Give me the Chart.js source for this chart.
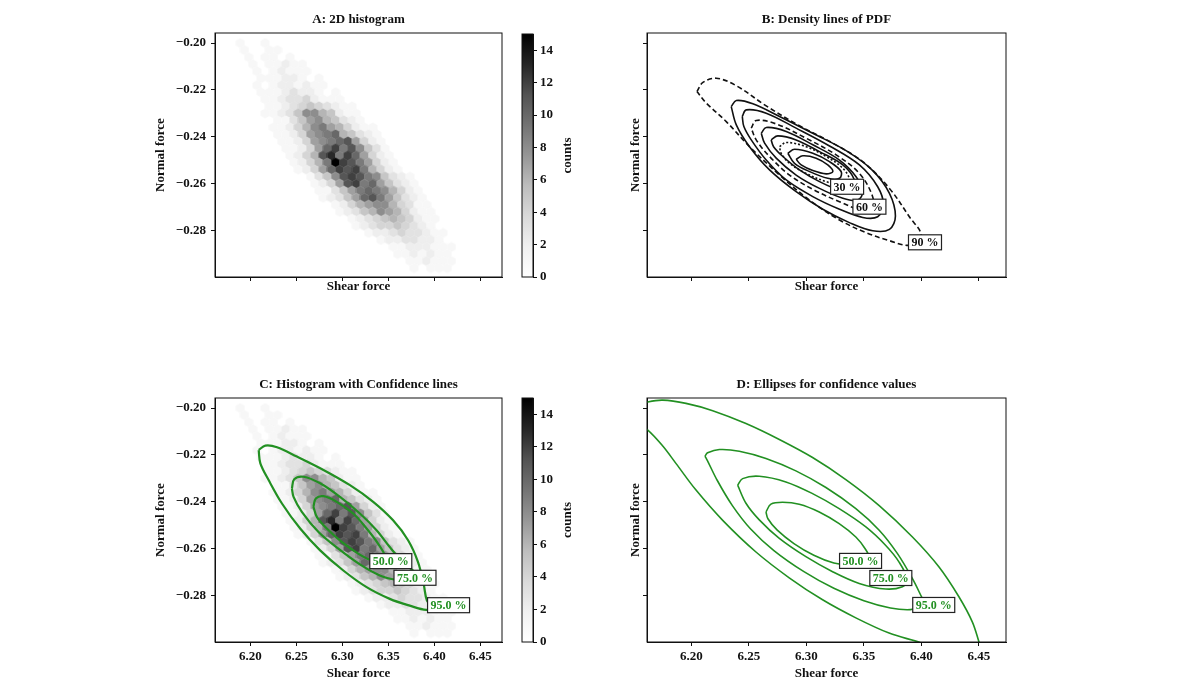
<!DOCTYPE html>
<html>
<head>
<meta charset="utf-8">
<script src="https://cdn.jsdelivr.net/npm/chart.js@4.4.1/dist/chart.umd.min.js"></script>
<style>
  html, body { margin: 0; padding: 0; background: #fff; }
  #wrap { position: relative; width: 1198px; height: 686px; overflow: hidden; background: #fff; }
  canvas { position: absolute; }
</style>
</head>
<body>
<div id="wrap">
  <canvas id="chA" width="372" height="300" style="left:140px;top:0px"></canvas>
  <canvas id="cbA" width="80" height="300" style="left:512px;top:0px"></canvas>
  <canvas id="chB" width="426" height="300" style="left:590px;top:0px"></canvas>
  <canvas id="chC" width="372" height="346" style="left:140px;top:340px"></canvas>
  <canvas id="cbC" width="80" height="346" style="left:512px;top:340px"></canvas>
  <canvas id="chD" width="426" height="346" style="left:590px;top:340px"></canvas>
</div>
<script>
// оси
const xTicks = [6.20, 6.25, 6.30, 6.35, 6.40, 6.45];
const yTicks = [-0.20, -0.22, -0.24, -0.26, -0.28];
const cbTicks = [0, 2, 4, 6, 8, 10, 12, 14];
const xRange = [6.1615, 6.4735];
const yRange = [-0.2998, -0.1957];
const countMax = 15;

// гексагональная гистограмма: сетка и счётчики (hex-цифры 0..f)
const histColX = [6.180, 6.189, 6.198, 6.207, 6.216, 6.225, 6.234, 6.243, 6.252, 6.261, 6.270,
  6.279, 6.288, 6.297, 6.306, 6.315, 6.324, 6.333, 6.342, 6.351, 6.360, 6.369, 6.378, 6.387,
  6.396, 6.405, 6.414, 6.423, 6.432, 6.441, 6.450];
const histRowY = [-0.200, -0.203, -0.206, -0.209, -0.212, -0.215, -0.218, -0.221, -0.224, -0.227,
  -0.230, -0.233, -0.236, -0.239, -0.242, -0.245, -0.248, -0.251, -0.254, -0.257, -0.260, -0.263,
  -0.266, -0.269, -0.272, -0.275, -0.278, -0.281, -0.284, -0.287, -0.290, -0.293, -0.296];
const histRowShift = 0.0045;
const histStart = [1, 1, 2, 2, 3, 3, 3, 3, 4, 4, 4, 5, 5, 5, 6, 6, 7, 7, 8, 9, 10, 10, 11, 12,
  13, 14, 15, 16, 18, 19, 20, 21, 22];
const histCounts = ["1001", "10011", "101101", "1011211", "1012111", "11122101", "101221211",
  "1112322101", "1123342111", "11234543211", "112358865211", "11357865321", "1124689764211",
  "1124789a65321", "1124789ab7421", "11247ac9b8531", "1246bd9ca7421", "12469fcb97421",
  "1247acbc96421", "1358bcb985321", "1247bc9a75321", "113579a986421", "12357ab975321",
  "124678864311", "123568764211", "12345654211", "1234454321", "1223433211", "12233221",
  "11222111", "1121211", "112111", "10111"];

// B: линии плотности
const bL90x = [6.2049, 6.2101, 6.2217, 6.2391, 6.2651, 6.2940, 6.3230, 6.3490, 6.3722, 6.3895, 6.3997, 6.3895, 6.3722, 6.3519, 6.3288, 6.3027, 6.2767, 6.2506, 6.2304, 6.2130];
const bL90y = [-0.2207, -0.2168, -0.2150, -0.2182, -0.2268, -0.2353, -0.2427, -0.2506, -0.2620, -0.2741, -0.2819, -0.2862, -0.2843, -0.2809, -0.2755, -0.2670, -0.2563, -0.2442, -0.2335, -0.2256];
const bS1x = [6.2347, 6.2391, 6.2535, 6.2767, 6.3056, 6.3345, 6.3577, 6.3722, 6.3774, 6.3722, 6.3577, 6.3374, 6.3143, 6.2911, 6.2680, 6.2506, 6.2391];
const bS1y = [-0.2271, -0.2245, -0.2259, -0.2313, -0.2385, -0.2459, -0.2544, -0.2641, -0.2738, -0.2795, -0.2801, -0.2766, -0.2709, -0.2634, -0.2541, -0.2442, -0.2349];
const bS2x = [6.2443, 6.2477, 6.2651, 6.2911, 6.3201, 6.3461, 6.3620, 6.3670, 6.3620, 6.3490, 6.3288, 6.3056, 6.2825, 6.2651, 6.2521, 6.2457];
const bS2y = [-0.2313, -0.2285, -0.2299, -0.2363, -0.2439, -0.2520, -0.2613, -0.2691, -0.2741, -0.2744, -0.2709, -0.2655, -0.2584, -0.2499, -0.2413, -0.2356];
const bL60x = [6.2521, 6.2564, 6.2738, 6.2998, 6.3259, 6.3461, 6.3571, 6.3577, 6.3476, 6.3288, 6.3056, 6.2854, 6.2680, 6.2564];
const bL60y = [-0.2363, -0.2330, -0.2345, -0.2406, -0.2477, -0.2556, -0.2648, -0.2705, -0.2712, -0.2677, -0.2624, -0.2563, -0.2484, -0.2413];
const bS3x = [6.2608, 6.2651, 6.2825, 6.3056, 6.3288, 6.3432, 6.3490, 6.3447, 6.3317, 6.3114, 6.2911, 6.2738, 6.2637];
const bS3y = [-0.2385, -0.2360, -0.2377, -0.2434, -0.2499, -0.2570, -0.2634, -0.2670, -0.2662, -0.2620, -0.2563, -0.2491, -0.2427];
const bS4x = [6.2694, 6.2752, 6.2911, 6.3114, 6.3317, 6.3418, 6.3403, 6.3288, 6.3114, 6.2940, 6.2796, 6.2715];
const bS4y = [-0.2413, -0.2396, -0.2413, -0.2463, -0.2520, -0.2584, -0.2627, -0.2627, -0.2591, -0.2541, -0.2484, -0.2442];
const bL30x = [6.2767, 6.2825, 6.2998, 6.3172, 6.3317, 6.3374, 6.3317, 6.3172, 6.2998, 6.2854, 6.2781];
const bL30y = [-0.2442, -0.2424, -0.2442, -0.2484, -0.2534, -0.2584, -0.2605, -0.2591, -0.2556, -0.2513, -0.2470];
const bS5x = [6.2839, 6.2897, 6.3056, 6.3201, 6.3302, 6.3288, 6.3186, 6.3027, 6.2897];
const bS5y = [-0.2470, -0.2453, -0.2470, -0.2506, -0.2548, -0.2577, -0.2577, -0.2548, -0.2513];
const bS6x = [6.2911, 6.2969, 6.3085, 6.3186, 6.3230, 6.3172, 6.3056, 6.2955];
const bS6y = [-0.2496, -0.2481, -0.2491, -0.2520, -0.2548, -0.2558, -0.2544, -0.2520];
const bLabelText = ["30 %", "60 %", "90 %"];
const bLabelX = [6.3354, 6.3548, 6.4031];
const bLabelY = [-0.2613, -0.2698, -0.2850];

// C: линии доверия поверх гистограммы
const cL95x = [6.2090, 6.2162, 6.2289, 6.2505, 6.2794, 6.3082, 6.3335, 6.3551, 6.3714, 6.3822, 6.3883, 6.3919, 6.3984, 6.3912, 6.3732, 6.3515, 6.3263, 6.3010, 6.2758, 6.2541, 6.2343, 6.2198, 6.2108];
const cL95y = [-0.2179, -0.2160, -0.2167, -0.2207, -0.2264, -0.2329, -0.2400, -0.2479, -0.2564, -0.2657, -0.2750, -0.2821, -0.2850, -0.2861, -0.2843, -0.2814, -0.2764, -0.2693, -0.2607, -0.2514, -0.2407, -0.2307, -0.2236];
const cL75x = [6.2451, 6.2476, 6.2577, 6.2758, 6.2974, 6.3190, 6.3371, 6.3515, 6.3641, 6.3768, 6.3876, 6.3768, 6.3587, 6.3407, 6.3190, 6.2956, 6.2740, 6.2559, 6.2469];
const cL75y = [-0.2343, -0.2304, -0.2293, -0.2321, -0.2379, -0.2450, -0.2521, -0.2593, -0.2650, -0.2693, -0.2721, -0.2739, -0.2733, -0.2714, -0.2667, -0.2600, -0.2529, -0.2443, -0.2379];
const cL50x = [6.2685, 6.2711, 6.2794, 6.2938, 6.3118, 6.3263, 6.3389, 6.3461, 6.3443, 6.3317, 6.3172, 6.2992, 6.2830, 6.2722];
const cL50y = [-0.2421, -0.2386, -0.2376, -0.2400, -0.2450, -0.2514, -0.2579, -0.2629, -0.2653, -0.2650, -0.2621, -0.2571, -0.2514, -0.2464];
const cLabelText = ["50.0 %", "75.0 %", "95.0 %"];
const cLabelX = [6.3526, 6.3789, 6.4154];
const cLabelY = [-0.2653, -0.2724, -0.2841];

// D: эллипсы
const dE50x = [6.2649, 6.2692, 6.2793, 6.2938, 6.3112, 6.3285, 6.3430, 6.3511, 6.3540, 6.3485, 6.3384, 6.3239, 6.3065, 6.2892, 6.2747, 6.2666];
const dE50y = [-0.2443, -0.2410, -0.2402, -0.2410, -0.2443, -0.2493, -0.2550, -0.2600, -0.2633, -0.2661, -0.2670, -0.2661, -0.2628, -0.2578, -0.2521, -0.2472];
const dE75x = [6.2403, 6.2446, 6.2591, 6.2822, 6.3054, 6.3285, 6.3517, 6.3690, 6.3806, 6.3879, 6.3835, 6.3690, 6.3459, 6.3228, 6.2996, 6.2765, 6.2591, 6.2475];
const dE75y = [-0.2329, -0.2301, -0.2291, -0.2315, -0.2365, -0.2429, -0.2507, -0.2586, -0.2657, -0.2734, -0.2762, -0.2772, -0.2748, -0.2698, -0.2634, -0.2556, -0.2477, -0.2406];
const dE95x = [6.2119, 6.2142, 6.2244, 6.2417, 6.2649, 6.2909, 6.3170, 6.3430, 6.3633, 6.3792, 6.3922, 6.4009, 6.4029, 6.4006, 6.3905, 6.3731, 6.3500, 6.3239, 6.2979, 6.2718, 6.2516, 6.2357, 6.2226, 6.2140];
const dE95y = [-0.2205, -0.2191, -0.2177, -0.2184, -0.2215, -0.2268, -0.2339, -0.2429, -0.2521, -0.2621, -0.2728, -0.2813, -0.2832, -0.2846, -0.2860, -0.2853, -0.2822, -0.2769, -0.2698, -0.2608, -0.2516, -0.2416, -0.2309, -0.2224];
const dE99x = [6.1434, 6.1535, 6.1622, 6.1752, 6.1954, 6.2186, 6.2475, 6.2765, 6.3054, 6.3343, 6.3633, 6.3922, 6.4153, 6.4327, 6.4443, 6.4501, 6.4544, 6.4564, 6.4443, 6.4240, 6.3994, 6.3719, 6.3430, 6.3141, 6.2851, 6.2562, 6.2273, 6.2041, 6.1868, 6.1752, 6.1622, 6.1506];
const dE99y = [-0.2030, -0.1989, -0.1974, -0.1966, -0.1980, -0.2011, -0.2066, -0.2134, -0.2211, -0.2305, -0.2416, -0.2550, -0.2678, -0.2806, -0.2913, -0.2999, -0.3063, -0.3113, -0.3077, -0.3046, -0.3001, -0.2960, -0.2895, -0.2818, -0.2724, -0.2614, -0.2479, -0.2350, -0.2237, -0.2162, -0.2094, -0.2058];
const dLabelX = [6.3471, 6.3734, 6.4107];
const dLabelY = [-0.2652, -0.2725, -0.2840];

// стили
const FONT = "'Liberation Serif', 'DejaVu Serif', serif";
const greys = ['#ffffff', '#f0f0f0', '#d9d9d9', '#bdbdbd', '#969696', '#737373', '#525252', '#252525', '#000000'];
const GREEN = '#229022';

Chart.defaults.font.family = FONT;
Chart.defaults.font.size = 13;
Chart.defaults.font.weight = 'bold';
Chart.defaults.color = '#111';

function greyAt(t) {
  const p = Math.max(0, Math.min(1, t)) * (greys.length - 1);
  const i = Math.min(Math.floor(p), greys.length - 2);
  const f = p - i;
  const a = parseInt(greys[i].slice(1, 3), 16);
  const b = parseInt(greys[i + 1].slice(1, 3), 16);
  const v = Math.round(a + (b - a) * f);
  return `rgb(${v},${v},${v})`;
}

// картинка шестиугольника для pointStyle
function hexImage(color) {
  const c = document.createElement('canvas');
  c.width = 10; c.height = 11;
  const g = c.getContext('2d');
  const w = 9.0, h = 10.0, cx = 5, cy = 5.5;
  g.beginPath();
  g.moveTo(cx, cy - h / 2);
  g.lineTo(cx + w / 2, cy - h / 4);
  g.lineTo(cx + w / 2, cy + h / 4);
  g.lineTo(cx, cy + h / 2);
  g.lineTo(cx - w / 2, cy + h / 4);
  g.lineTo(cx - w / 2, cy - h / 4);
  g.closePath();
  g.fillStyle = color;
  g.fill();
  return c;
}
const hexImgs = [];
for (let v = 0; v <= countMax; v++) hexImgs.push(hexImage(greyAt(v / countMax)));

const histPoints = [];
histCounts.forEach((row, r) => {
  for (let i = 0; i < row.length; i++) {
    const v = parseInt(row[i], 16);
    if (!v) continue;
    const c = histStart[r] + i;
    histPoints.push({ x: histColX[c] + (r % 2 ? histRowShift : 0), y: histRowY[r], v });
  }
});

function histSet() {
  return {
    data: histPoints,
    pointStyle: (ctx) => (ctx.raw ? hexImgs[ctx.raw.v] : 'circle'),
    pointRadius: 4,
    order: 5,
  };
}

function lineSet(xs, ys, color, width, dash) {
  const pts = xs.map((x, i) => ({ x, y: ys[i] }));
  pts.push(pts[0]); // замыкаем контур
  return {
    data: pts,
    showLine: true,
    borderColor: color,
    borderWidth: width,
    borderDash: dash || [],
    pointRadius: 0,
    tension: 0.35,
    fill: false,
    order: 0,
  };
}

// плагины
const framePlugin = {
  id: 'frame',
  afterDraw(chart) {
    const { ctx, chartArea: a } = chart;
    ctx.save();
    ctx.strokeStyle = '#111';
    ctx.lineWidth = 1;
    ctx.strokeRect(a.left, a.top, a.right - a.left, a.bottom - a.top);
    ctx.restore();
  },
};

const titlePlugin = {
  id: 'panelTitle',
  afterDraw(chart, args, opts) {
    if (!opts.text) return;
    const { ctx, chartArea: a } = chart;
    ctx.save();
    ctx.font = `bold 13px ${FONT}`;
    ctx.fillStyle = '#111';
    ctx.textAlign = 'center';
    ctx.textBaseline = 'middle';
    ctx.fillText(opts.text, (a.left + a.right) / 2, a.top - 13);
    ctx.restore();
  },
};

const sideLabelPlugin = {
  id: 'sideLabel',
  afterDraw(chart, args, opts) {
    if (!opts.text) return;
    const { ctx, chartArea: a } = chart;
    ctx.save();
    ctx.translate(a.right + 35, (a.top + a.bottom) / 2);
    ctx.rotate(-Math.PI / 2);
    ctx.font = `bold 13px ${FONT}`;
    ctx.fillStyle = '#111';
    ctx.textAlign = 'center';
    ctx.textBaseline = 'middle';
    ctx.fillText(opts.text, 0, 0);
    ctx.restore();
  },
};

const boxPlugin = {
  id: 'boxLabels',
  afterDatasetsDraw(chart, args, opts) {
    if (!opts.texts) return;
    const { ctx, scales } = chart;
    ctx.save();
    ctx.font = `bold 12px ${FONT}`;
    ctx.textAlign = 'center';
    ctx.textBaseline = 'middle';
    opts.texts.forEach((t, i) => {
      const px = scales.x.getPixelForValue(opts.xs[i]);
      const py = scales.y.getPixelForValue(opts.ys[i]);
      const w = ctx.measureText(t).width + 6;
      const h = 15;
      ctx.fillStyle = '#fff';
      ctx.fillRect(px - w / 2, py - h / 2, w, h);
      ctx.strokeStyle = '#222';
      ctx.lineWidth = 1.2;
      ctx.strokeRect(px - w / 2, py - h / 2, w, h);
      ctx.fillStyle = opts.color;
      ctx.fillText(t, px, py + 1);
    });
    ctx.restore();
  },
};

Chart.register(framePlugin, titlePlugin, sideLabelPlugin, boxPlugin);

const fmt = (v) => v.toFixed(2).replace('-', '\u2212');

function panel(id, o) {
  return new Chart(document.getElementById(id), {
    type: 'scatter',
    data: { datasets: o.datasets },
    options: {
      responsive: false,
      animation: false,
      events: [],
      layout: { padding: { top: o.top, right: 10, left: 0, bottom: 0 } },
      plugins: {
        legend: { display: false },
        tooltip: { enabled: false },
        panelTitle: { text: o.title },
        boxLabels: o.labels || {},
      },
      scales: {
        x: {
          type: 'linear',
          min: xRange[0],
          max: xRange[1],
          afterBuildTicks: (s) => { s.ticks = xTicks.map((v) => ({ value: v })); },
          afterFit: (s) => { s.height = o.xh; },
          grid: { drawOnChartArea: false, tickLength: 4, color: '#111' },
          border: { color: '#111' },
          ticks: { display: o.xLabels, padding: 3, autoSkip: false, maxRotation: 0, callback: (v) => v.toFixed(2) },
          title: { display: true, text: 'Shear force', padding: { top: 0, bottom: o.xtp } },
        },
        y: {
          type: 'linear',
          min: yRange[0],
          max: yRange[1],
          afterBuildTicks: (s) => { s.ticks = yTicks.map((v) => ({ value: v })); },
          afterFit: (s) => { s.width = o.yw; },
          grid: { drawOnChartArea: false, tickLength: 4, color: '#111' },
          border: { color: '#111' },
          ticks: { display: o.yLabels, padding: 5, autoSkip: false, callback: fmt },
          title: { display: true, text: 'Normal force', padding: { top: o.ytp, bottom: 0 } },
        },
      },
    },
  });
}

function colorbar(id, top, bottom) {
  return new Chart(document.getElementById(id), {
    type: 'bar',
    data: {
      labels: ['counts'],
      datasets: [{
        data: [[0, countMax]],
        backgroundColor: (ctx) => {
          const chart = ctx.chart;
          if (!chart.chartArea) return '#888';
          const y = chart.scales.y;
          const g = chart.ctx.createLinearGradient(0, y.getPixelForValue(0), 0, y.getPixelForValue(countMax));
          greys.forEach((c, i) => g.addColorStop(i / (greys.length - 1), c));
          return g;
        },
        borderWidth: 0,
        barPercentage: 1,
        categoryPercentage: 1,
      }],
    },
    options: {
      responsive: false,
      animation: false,
      events: [],
      layout: { padding: { top, bottom, left: 10, right: 0 } },
      plugins: { legend: { display: false }, tooltip: { enabled: false }, sideLabel: { text: 'counts' } },
      scales: {
        x: { display: false },
        y: {
          position: 'right',
          min: 0,
          max: countMax,
          afterBuildTicks: (s) => { s.ticks = cbTicks.map((v) => ({ value: v })); },
          afterFit: (s) => { s.width = 59; },
          grid: { drawOnChartArea: false, tickLength: 4, color: '#111' },
          border: { color: '#111' },
          ticks: { padding: 3, autoSkip: false },
        },
      },
    },
  });
}

panel('chA', {
  title: 'A: 2D histogram', top: 33, xh: 23, xtp: 5.8, yw: 75, ytp: 12.8, xLabels: false, yLabels: true,
  datasets: [histSet()],
});
colorbar('cbA', 34, 23);

panel('chB', {
  title: 'B: Density lines of PDF', top: 33, xh: 23, xtp: 5.8, yw: 57, ytp: 37.8, xLabels: false, yLabels: false,
  datasets: [
    lineSet(bL90x, bL90y, '#111', 1.6, [5, 3]),
    lineSet(bS1x, bS1y, '#111', 1.6),
    lineSet(bS2x, bS2y, '#111', 1.6),
    lineSet(bL60x, bL60y, '#111', 1.6, [5, 3]),
    lineSet(bS3x, bS3y, '#111', 1.6),
    lineSet(bS4x, bS4y, '#111', 1.6),
    lineSet(bL30x, bL30y, '#111', 1.6, [2, 2]),
    lineSet(bS5x, bS5y, '#111', 1.6),
    lineSet(bS6x, bS6y, '#111', 1.6),
  ],
  labels: { texts: bLabelText, xs: bLabelX, ys: bLabelY, color: '#111' },
});

panel('chC', {
  title: 'C: Histogram with Confidence lines', top: 58, xh: 44, xtp: 4.8, yw: 75, ytp: 12.8, xLabels: true, yLabels: true,
  datasets: [
    lineSet(cL95x, cL95y, GREEN, 2.2),
    lineSet(cL75x, cL75y, GREEN, 2.2),
    lineSet(cL50x, cL50y, GREEN, 2.2),
    histSet(),
  ],
  labels: { texts: cLabelText, xs: cLabelX, ys: cLabelY, color: GREEN },
});
colorbar('cbC', 58, 44);

panel('chD', {
  title: 'D: Ellipses for confidence values', top: 58, xh: 44, xtp: 4.8, yw: 57, ytp: 37.8, xLabels: true, yLabels: false,
  datasets: [
    lineSet(dE99x, dE99y, GREEN, 1.6),
    lineSet(dE95x, dE95y, GREEN, 1.6),
    lineSet(dE75x, dE75y, GREEN, 1.6),
    lineSet(dE50x, dE50y, GREEN, 1.6),
  ],
  labels: { texts: cLabelText, xs: dLabelX, ys: dLabelY, color: GREEN },
});
</script>
</body>
</html>
